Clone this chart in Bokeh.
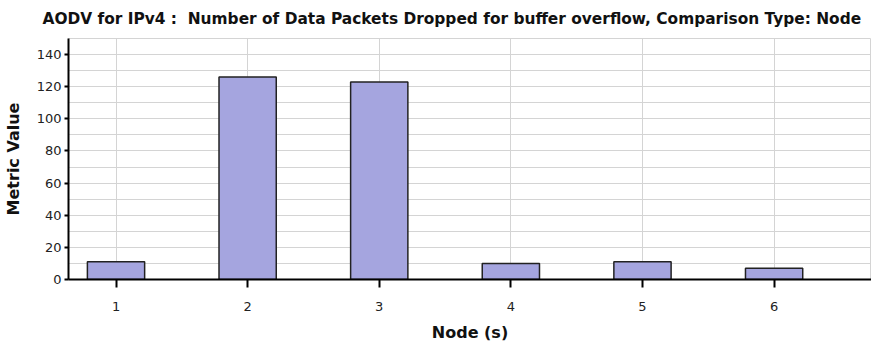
from bokeh.plotting import figure
from bokeh.models import ColumnDataSource, FixedTicker, SingleIntervalTicker, Range1d
from bokeh.embed import file_html
from bokeh.resources import INLINE

nodes = [1, 2, 3, 4, 5, 6]
values = [11, 126, 123, 10, 11, 7]
tick_labels = ["1", "2", "3", "4", "5", "6"]

title = "AODV for IPv4 :\u00a0 Number of Data Packets Dropped for buffer overflow, Comparison Type: Node"

src = ColumnDataSource(dict(x=nodes, top=values))

p = figure(width=871, height=349, output_backend="svg", toolbar_location=None,
           x_range=Range1d(0.639, 6.74), y_range=Range1d(0, 150),
           min_border_left=65, min_border_right=0, min_border_top=38, min_border_bottom=70)

p.title.text = title
p.title.align = "left"
p.title.offset = -26
p.title.vertical_align = "top"
p.title.standoff = 17
p.title.text_font = "DejaVu Sans"
p.title.text_font_size = "15.4px"
p.title.text_font_style = "bold"
p.title.text_color = "#111111"

p.vbar(x="x", top="top", width=0.435, bottom=0, source=src,
       fill_color="#a5a5df", line_color="#222222", line_width=1.5)

grid_color = "#d4d4d4"
p.outline_line_color = grid_color
p.xgrid.grid_line_color = grid_color
p.ygrid.grid_line_color = grid_color
p.ygrid.minor_grid_line_color = grid_color

p.xaxis.ticker = FixedTicker(ticks=nodes)
p.xaxis.major_label_overrides = {n: t for n, t in zip(nodes, tick_labels)}
p.yaxis.ticker = SingleIntervalTicker(interval=20, num_minor_ticks=2)
p.xaxis.minor_tick_line_color = None
p.yaxis.minor_tick_line_color = None

for ax in (p.xaxis[0], p.yaxis[0]):
    ax.axis_line_color = "#000000"
    ax.axis_line_width = 2
    ax.major_tick_line_color = "#000000"
    ax.major_tick_line_width = 2
    ax.major_tick_in = 0
    ax.major_label_text_font = "DejaVu Sans"
    ax.major_label_text_font_size = "13px"
    ax.major_label_text_color = "#222222"
    ax.axis_label_text_font = "DejaVu Sans"
    ax.axis_label_text_font_style = "bold"
    ax.axis_label_text_font_size = "16px"
    ax.axis_label_text_color = "#111111"

p.xaxis.major_tick_out = 8
p.xaxis.major_label_standoff = 14
p.yaxis.major_tick_out = 4
p.yaxis.major_label_standoff = 3
p.xaxis.axis_label = "Node (s)"
p.yaxis.axis_label = "Metric Value"
p.xaxis.axis_label_standoff = 9
p.yaxis.axis_label_standoff = 11

open("out.html", "w").write(file_html(p, INLINE))
